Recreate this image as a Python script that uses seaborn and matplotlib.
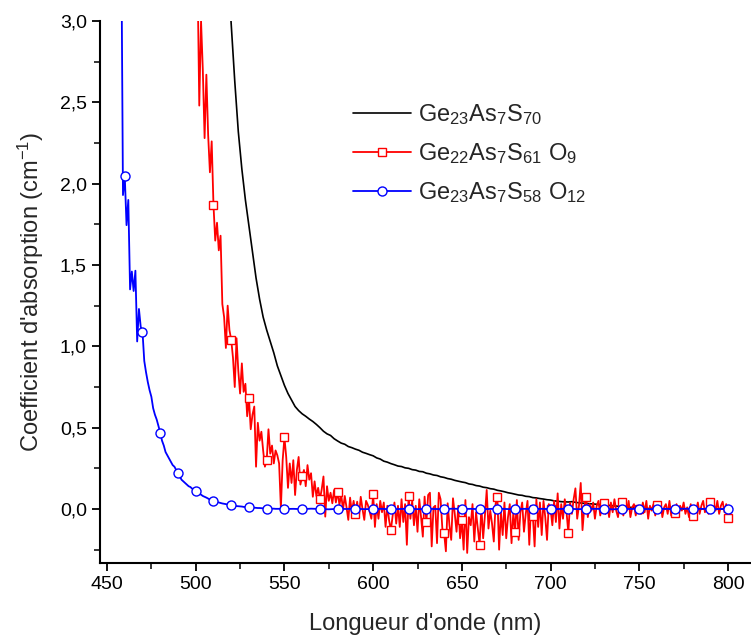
import numpy as np
import pandas as pd
import matplotlib
matplotlib.use("Agg")
import matplotlib.pyplot as plt
from matplotlib.lines import Line2D
from matplotlib.ticker import MultipleLocator, FuncFormatter
import seaborn as sns

sns.set_style("ticks")
plt.rcParams['font.family'] = ['Liberation Sans', 'DejaVu Sans']
plt.rcParams['mathtext.fontset'] = 'custom'
plt.rcParams['mathtext.rm'] = 'Liberation Sans'
plt.rcParams['mathtext.it'] = 'Liberation Sans'

# ---------------- data ----------------
labels = [r"Ge$_{23}$As$_{7}$S$_{70}$",
          r"Ge$_{22}$As$_{7}$S$_{61}$ O$_{9}$",
          r"Ge$_{23}$As$_{7}$S$_{58}$ O$_{12}$"]

# Ge23As7S70 : 518..800 nm, 2 nm steps
black_wl = list(range(518, 801, 2))
black_abs = [3.35, 2.98, 2.63, 2.32, 2.09, 1.90, 1.74, 1.58, 1.42, 1.29,
             1.18, 1.10, 1.03, 0.96, 0.88, 0.82, 0.76, 0.71, 0.67, 0.63,
             0.605, 0.585, 0.57, 0.553, 0.538, 0.52, 0.50, 0.478, 0.462, 0.452,
             0.432, 0.418, 0.405, 0.398, 0.384, 0.377, 0.368, 0.361, 0.349, 0.342,
             0.334, 0.327, 0.314, 0.307, 0.294, 0.288, 0.279, 0.272, 0.264, 0.261,
             0.253, 0.25, 0.242, 0.239, 0.231, 0.229, 0.220, 0.216, 0.209, 0.206,
             0.198, 0.194, 0.187, 0.183, 0.176, 0.171, 0.166, 0.162, 0.154, 0.151,
             0.144, 0.141, 0.134, 0.131, 0.125, 0.122, 0.115, 0.111, 0.106, 0.100,
             0.096, 0.091, 0.086, 0.084, 0.078, 0.076, 0.070, 0.068, 0.064, 0.061,
             0.057, 0.055, 0.050, 0.048, 0.045, 0.044, 0.043, 0.045, 0.041, 0.038,
             0.036, 0.034, 0.032, 0.031, 0.029, 0.027, 0.025, 0.024, 0.021, 0.019,
             0.017, 0.015, 0.013, 0.011, 0.009, 0.007, 0.005, 0.004, 0.003, 0.003,
             0.002, 0.002, 0.001, 0.001, 0.001, 0.0, 0.0, 0.001, 0.0, 0.0,
             0.0, 0.001, 0.0, 0.0, 0.001, 0.0, 0.0, 0.0, 0.001, 0.0,
             0.0, 0.0]

# Ge22As7S61O9 : 500..800 nm, 1 nm steps
red_wl = list(range(500, 801))
red_abs = [3.8, 3.3, 2.48, 3.0, 2.7, 2.28, 2.67, 2.3, 2.07, 2.26,
           1.87, 1.65, 1.76, 1.59, 1.68, 1.26, 1.18, 0.99, 1.25, 1.10,
           1.04, 0.93, 0.75, 1.05, 0.85, 0.71, 0.895, 0.72, 0.77, 0.57,
           0.68, 0.49, 0.58, 0.63, 0.26, 0.53, 0.42, 0.475, 0.36, 0.26,
           0.30, 0.49, 0.34, 0.39, 0.28, 0.36, 0.33, 0.28, 0.004, 0.30,
           0.44, 0.32, 0.13, 0.28, 0.16, 0.30, 0.086, 0.24, 0.32, 0.15,
           0.20, 0.24, 0.14, 0.27, 0.18, 0.22, 0.075, 0.17, 0.08, 0.13,
           0.06, 0.12, 0.20, -0.047, 0.14, 0.05, 0.10, 0.035, 0.117, 0.04,
           0.106, 0.025, 0.09, -0.006, 0.08, 0.01, -0.067, 0.07, -0.02, 0.05,
           -0.03, 0.045, -0.05, 0.075, 0.0, -0.067, 0.05, 0.025, -0.016, -0.06,
           0.09, -0.11, 0.03, -0.06, 0.05, -0.02, 0.04, -0.11, 0.02, -0.07,
           -0.13, -0.04, 0.04, -0.09, 0.02, -0.11, 0.06, -0.08, 0.03, -0.22,
           0.08, -0.06, 0.05, -0.10, 0.02, -0.14, 0.06, -0.05, -0.17, 0.076,
           -0.08, 0.086, 0.10, -0.23, 0.01, 0.02, -0.21, 0.10, 0.06, -0.12,
           -0.15, -0.26, 0.035, -0.10, -0.19, 0.066, -0.03, -0.14, 0.02, -0.18,
           -0.07, -0.25, 0.055, -0.27, -0.05, -0.10, 0.03, -0.20, -0.02, -0.12,
           -0.22, 0.014, -0.18, -0.04, 0.117, -0.12, -0.01, -0.09, -0.20, 0.03,
           0.076, -0.25, -0.02, -0.16, 0.04, -0.18, -0.05, 0.03, -0.21, -0.02,
           -0.14, 0.055, -0.19, -0.02, 0.04, -0.14, -0.03, 0.05, -0.22, 0.02,
           -0.04, -0.23, 0.06, -0.11, 0.04, -0.16, 0.05, -0.05, -0.19, 0.03,
           0.0, -0.10, 0.05, -0.08, 0.096, -0.12, 0.03, -0.06, 0.06, -0.02,
           -0.146, 0.04, -0.03, 0.06, 0.127, -0.06, 0.02, 0.16, -0.13, 0.01,
           0.076, -0.05, 0.03, -0.01, 0.04, -0.06, 0.02, 0.05, -0.04, 0.01,
           0.035, -0.03, 0.02, -0.05, 0.04, -0.02, 0.06, -0.01, -0.05, 0.03,
           0.045, -0.04, 0.02, -0.01, 0.05, -0.05, 0.01, 0.03, -0.04, 0.02,
           0.0, -0.03, 0.04, -0.02, 0.05, -0.06, 0.02, -0.01, 0.03, -0.04,
           0.025, -0.02, 0.04, -0.05, 0.01, 0.03, -0.03, 0.05, -0.04, 0.02,
           -0.027, 0.03, -0.05, 0.02, -0.01, 0.04, -0.03, 0.01, -0.05, 0.03,
           -0.043, 0.02, -0.01, 0.04, -0.03, 0.02, 0.05, -0.02, 0.01, -0.03,
           0.04, -0.02, 0.03, -0.01, 0.05, -0.03, 0.02, 0.045, -0.02, 0.03,
           -0.055]

# Ge23As7S58O12 : 458..550 nm (1 nm) then 555..800 nm (5 nm)
blue_wl = list(range(458, 551)) + list(range(555, 801, 5))
blue_abs = [3.6, 1.93, 2.05, 1.745, 1.90, 1.35, 1.46, 1.34, 1.465, 1.03,
            1.23, 1.12, 1.09, 0.91, 0.84, 0.78, 0.73, 0.69, 0.62, 0.58,
            0.55, 0.51, 0.47, 0.42, 0.39, 0.35, 0.33, 0.31, 0.29, 0.27,
            0.26, 0.24, 0.22, 0.20, 0.18, 0.17, 0.16, 0.15, 0.14, 0.135,
            0.125, 0.12, 0.113, 0.10, 0.096, 0.088, 0.08, 0.075, 0.07, 0.064,
            0.058, 0.054, 0.05, 0.046, 0.043, 0.04, 0.037, 0.034, 0.032, 0.03,
            0.027, 0.025, 0.023, 0.021, 0.02, 0.018, 0.017, 0.016, 0.015, 0.013,
            0.012, 0.011, 0.01, 0.009, 0.009, 0.008, 0.007, 0.006, 0.006, 0.005,
            0.004, 0.003, 0.003, 0.003, 0.002, 0.002, 0.002, 0.001, 0.001, 0.001,
            0.0, 0.0, 0.0,
            0.001, -0.001, 0.002, 0.0, -0.002, 0.001, 0.0, 0.002, -0.001, 0.0,
            0.001, -0.002, 0.0, 0.002, -0.001, 0.001, 0.0, -0.001, 0.002, 0.0,
            0.001, -0.001, 0.0, 0.002, 0.0, -0.002, 0.001, 0.0, 0.001, -0.001,
            0.0, 0.002, -0.001, 0.0, 0.001, 0.0, -0.002, 0.001, 0.0, 0.002,
            -0.001, 0.0, 0.001, -0.001, 0.002, 0.0, 0.001, -0.001, 0.0, 0.001]

assert len(black_wl) == len(black_abs)
assert len(red_wl) == len(red_abs)
assert len(blue_wl) == len(blue_abs)

df_black = pd.DataFrame({"wl": black_wl, "a": black_abs})
df_red = pd.DataFrame({"wl": red_wl, "a": red_abs})
df_blue = pd.DataFrame({"wl": blue_wl, "a": blue_abs})

# ---------------- plot ----------------
fig = plt.figure(figsize=(7.51, 6.44), dpi=100)
ax = fig.add_axes([100/751, 1 - 563/644, 650/751, (563 - 21)/644])

red_mk = [i for i, w in enumerate(red_wl) if w % 10 == 0]
blue_mk = [i for i, w in enumerate(blue_wl) if w % 10 == 0]

sns.lineplot(data=df_black, x="wl", y="a", ax=ax, color="black", lw=1.2,
             sort=False, estimator=None, zorder=2)
sns.lineplot(data=df_red, x="wl", y="a", ax=ax, color="#ff0000", lw=1.3,
             sort=False, estimator=None, marker="s", markevery=red_mk,
             markersize=6, markerfacecolor="white", markeredgecolor="#ff0000",
             markeredgewidth=1.0, zorder=3)
sns.lineplot(data=df_blue, x="wl", y="a", ax=ax, color="#0000ff", lw=1.3,
             sort=False, estimator=None, marker="o", markevery=blue_mk,
             markersize=6.5, markerfacecolor="white", markeredgecolor="#0000ff",
             markeredgewidth=1.0, zorder=4)

ax.set_xlim(446.05, 812.4)
ax.set_ylim(-0.332, 3.0)
ax.xaxis.set_major_locator(MultipleLocator(50))
ax.xaxis.set_minor_locator(MultipleLocator(25))
ax.yaxis.set_major_locator(MultipleLocator(0.5))
ax.yaxis.set_minor_locator(MultipleLocator(0.25))
ax.yaxis.set_major_formatter(FuncFormatter(lambda v, p: f"{v:.1f}".replace(".", ",").replace("-0,0", "0,0")))

for s in ["top", "right"]:
    ax.spines[s].set_visible(False)
for s in ["left", "bottom"]:
    ax.spines[s].set_linewidth(1.5)
    ax.spines[s].set_color("black")

ax.tick_params(which="major", direction="out", length=6, width=1.3, labelsize=14, colors="black")
ax.tick_params(which="minor", direction="out", length=4, width=1.3)

ax.set_xlabel("Longueur d'onde (nm)", fontsize=17, labelpad=14)
ax.set_ylabel("Coefficient d'absorption (cm$^{-1}$)", fontsize=17, labelpad=10)

handles = [
    Line2D([], [], color="black", lw=1.2),
    Line2D([], [], color="#ff0000", lw=1.3, marker="s", markersize=6,
           markerfacecolor="white", markeredgecolor="#ff0000"),
    Line2D([], [], color="#0000ff", lw=1.3, marker="o", markersize=6.5,
           markerfacecolor="white", markeredgecolor="#0000ff"),
]
leg = fig.legend(handles, labels, loc="upper left",
                 bbox_to_anchor=(341/751, 1 - 90/644), frameon=False,
                 fontsize=17, handlelength=2.45, handletextpad=0.3,
                 labelspacing=0.6, borderpad=0, numpoints=1)

fig.savefig("out.png", dpi=100)
